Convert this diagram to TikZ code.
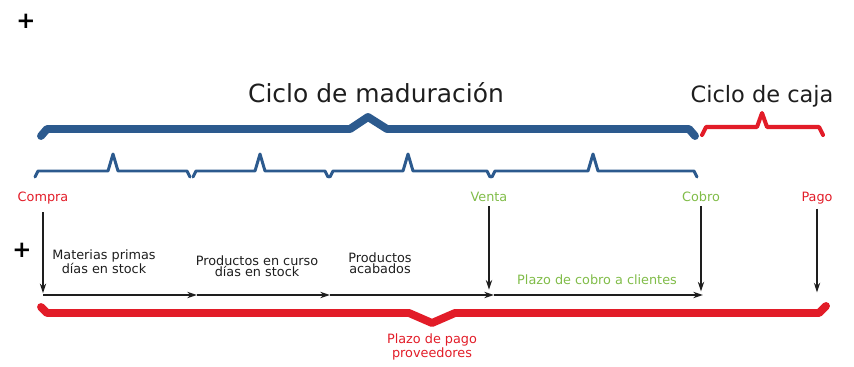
\documentclass[tikz,border=0pt]{standalone}
\usepackage{fontspec}
\setmainfont{DejaVu Sans}
\usepackage{xcolor}
\usetikzlibrary{positioning, arrows.meta}

\definecolor{cicloblue}{RGB}{44,90,142}
\definecolor{ciclored}{RGB}{226,28,40}
\definecolor{ciclogreen}{RGB}{128,188,72}
\definecolor{textgray}{RGB}{30,30,30}

\begin{document}
\begin{tikzpicture}[
    x=0.02cm, y=-0.02cm,
    title/.style={
        anchor=base,
        inner sep=0pt,
        text=textgray,
        font=\fontsize{14.2}{17}\selectfont
    },
    event/.style={
        anchor=base,
        inner sep=0pt,
        font=\fontsize{7.3}{6.8}\selectfont
    },
    stage/.style={
        anchor=base,
        inner sep=0pt,
        align=center,
        text=textgray,
        font=\fontsize{7.3}{6.8}\selectfont
    },
    cross/.style={
        inner sep=0pt,
        font=\fontsize{13}{13}\selectfont\bfseries
    },
    arrow/.style={
        line width=0.8pt,
        draw=textgray,
        -{Stealth[length=5.5pt,width=3.6pt]}
    },
    bigbrace/.style={
        line width=4.5pt,
        line cap=round,
        line join=round
    },
    smallbrace/.style={
        line width=1.7pt,
        draw=cicloblue,
        line cap=round,
        line join=round
    }
]

\useasboundingbox (0,0) rectangle (854,367);

% Marks

\node[cross] (plusTop) at (26,21) {+};
\node[cross] (plusMid) at (22,250) {+};


% Titles

\node[title] (maduracion) at (376,103) {Ciclo de maduración};

\node[title, font=\fontsize{12.8}{15}\selectfont] (caja) at (762,103) {Ciclo de caja};


% Braces

\draw[bigbrace, draw=cicloblue] (41,136) -- (47,129) -- (350,129) -- (368,117)
    -- (387,129) -- (689,129) -- (695,136);

\draw[line width=2.3pt, draw=ciclored, line cap=round, line join=round]
    (702,135) -- (706,127) -- (757,127) -- (762,113) -- (767,127)
    -- (819,127) -- (823,135);

\draw[smallbrace] (35,177) -- (38,171) -- (108,171) -- (113,154) -- (118,171)
    -- (187,171) -- (190,177);
\draw[smallbrace] (193,177) -- (196,171) -- (255,171) -- (260,154) -- (265,171)
    -- (325,171) -- (328,177);
\draw[smallbrace] (330,177) -- (333,171) -- (403,171) -- (408,154) -- (413,171)
    -- (487,171) -- (490,177);
\draw[smallbrace] (492,177) -- (495,171) -- (588,171) -- (593,154) -- (598,171)
    -- (694,171) -- (697,177);

\draw[bigbrace, draw=ciclored] (41,307) -- (47,313) -- (409,313) -- (432,323)
    -- (455,313) -- (819,313) -- (826,306);

\coordinate (valle) at (432,323);


% Events

\node[event, text=ciclored] (compra) at (43,202) {Compra};
\node[event, text=ciclogreen] (venta) at (489,202) {Venta};
\node[event, text=ciclogreen] (cobro) at (701,202) {Cobro};
\node[event, text=ciclored] (pago) at (817,202) {Pago};


% Timeline

\coordinate (tCompra) at (43,295);
\coordinate (tMaterias) at (197,295);
\coordinate (tCurso) at (330,295);
\coordinate (tVenta) at (494,295);
\coordinate (tCobro) at (703,295);


% Stages

\node[stage] (materias) at (104,274) {Materias primas\\días en stock};

\node[stage] (curso) at (257,277) {Productos en curso\\días en stock};

\node[stage] (acabados) at (380,274) {Productos\\acabados};

\node[event, text=ciclogreen] (cobroClientes) at (597,285) {Plazo de cobro a clientes};

\node[stage, anchor=north, text=ciclored, font=\fontsize{7.3}{6.2}\selectfont,
    below=6pt of valle] (pagoProv) {Plazo de pago\\proveedores};


% Arrows

\draw[arrow, shorten <=4pt, shorten >=1pt] (compra) -- (tCompra);
\draw[arrow, shorten <=2pt, shorten >=3pt] (venta) -- (venta |- tVenta);
\draw[arrow, shorten <=2pt, shorten >=2pt] (cobro) -- (cobro |- tCobro);
\draw[arrow, shorten <=2pt, shorten >=1.5pt] (pago) -- (pago |- tCompra);

\draw[arrow] (tCompra) -- (tMaterias);
\draw[arrow] (tMaterias) -- (tCurso);
\draw[arrow] (tCurso) -- (tVenta);
\draw[arrow] (tVenta) -- (tCobro);

\end{tikzpicture}
\end{document}
